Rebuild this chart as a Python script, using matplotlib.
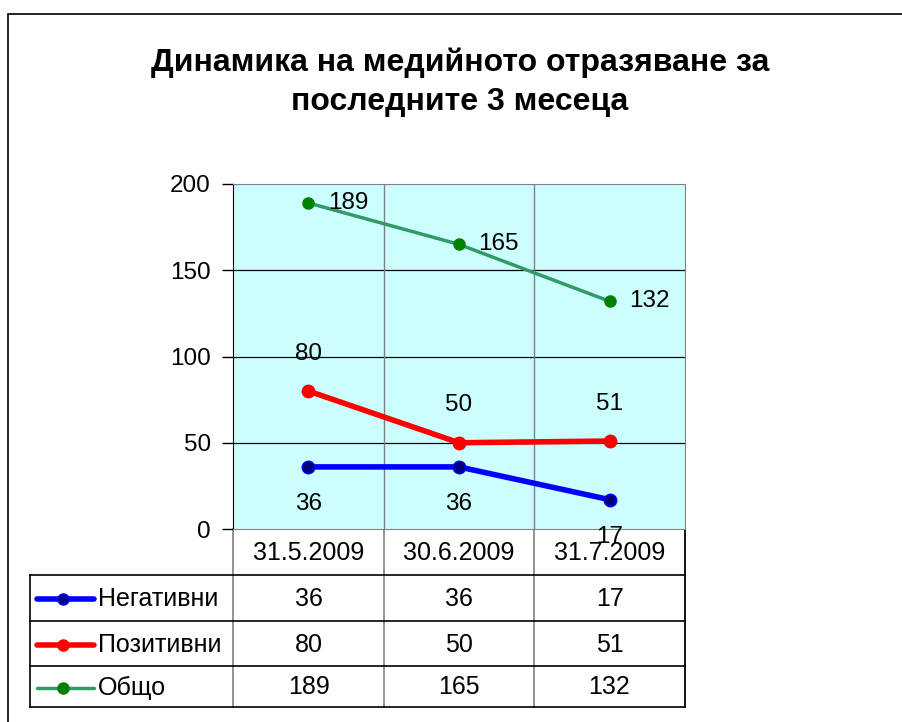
import matplotlib.pyplot as plt
from matplotlib.lines import Line2D
from matplotlib.patches import Rectangle

# data
dates = ["31.5.2009", "30.6.2009", "31.7.2009"]
series_names = ["Негативни", "Позитивни", "Общо"]
negative = [36, 36, 17]
positive = [80, 50, 51]
total = [189, 165, 132]

title = "Динамика на медийното отразяване за\nпоследните 3 месеца"

W, H = 902, 722
SANS = ["Liberation Sans", "DejaVu Sans"]


def fx(px):
    return px / W


def fy(py):
    return 1 - py / H


fig = plt.figure(figsize=(W / 100, H / 100), dpi=100)

# outer chart border
fig.patches.append(Rectangle((fx(8), fy(760)), fx(950), fy(14) - fy(760),
                             transform=fig.transFigure, fill=False,
                             edgecolor="black", linewidth=1.2))

fig.text(fx(460), fy(82), title, ha="center", va="center",
         fontsize=23, fontweight="bold", family=SANS, linespacing=1.4)

# plot area
L, R, T, B = 233, 685, 184, 529
ax = fig.add_axes([fx(L), fy(B), fx(R - L), fy(T) - fy(B)])
ax.set_facecolor("#CCFFFF")
x = list(range(len(dates)))
ax.set_xlim(-0.5, len(dates) - 0.5)
ax.set_ylim(0, 200)
ax.set_yticks([0, 50, 100, 150, 200])
for yv in [50, 100, 150]:
    ax.axhline(yv, color="black", linewidth=0.9, zorder=1)
for xv in [0.5, 1.5]:
    ax.axvline(xv, color="#808080", linewidth=1.0, zorder=1)
ax.set_xticks([])
for s in ["top", "right", "bottom"]:
    ax.spines[s].set_color("#808080")
ax.spines["left"].set_color("black")
ax.tick_params(axis="y", length=8, width=1, labelsize=17.5, pad=8)
for lab in ax.get_yticklabels():
    lab.set_family(SANS)

ax.plot(x, total, color="#339966", linewidth=2.5, marker="o", markersize=8,
        markerfacecolor="#008000", markeredgecolor="#008000", zorder=3)
ax.plot(x, positive, color="#FF0000", linewidth=4, marker="o", markersize=9,
        markerfacecolor="#FF0000", markeredgecolor="#FF0000", zorder=3)
ax.plot(x, negative, color="#0000FF", linewidth=4, marker="o", markersize=9,
        markerfacecolor="#000080", markeredgecolor="#0000FF", zorder=3)

for i in x:
    ax.annotate(str(total[i]), (i, total[i]), xytext=(14, 0),
                textcoords="offset points", ha="left", va="center",
                fontsize=17.5, family=SANS)
    ax.annotate(str(positive[i]), (i, positive[i]), xytext=(0, 27),
                textcoords="offset points", ha="center", va="center",
                fontsize=17.5, family=SANS)
    ax.annotate(str(negative[i]), (i, negative[i]), xytext=(0, -27),
                textcoords="offset points", ha="center", va="center",
                fontsize=17.5, family=SANS, annotation_clip=False,
                zorder=5)

# data table
tab = fig.add_axes([0, 0, 1, 1], zorder=-1)
tab.set_xlim(0, W)
tab.set_ylim(H, 0)
tab.axis("off")

col_edges = [233, 384, 534, 685]
row_edges = [529, 575, 621, 666, 707]
key_left = 30

for xe in col_edges:
    tab.plot([xe, xe], [row_edges[0], row_edges[-1]], color="#808080", lw=1.2)
tab.plot([key_left, key_left], [row_edges[1], row_edges[-1]],
         color="black", lw=1.2)
for ye in row_edges[1:]:
    tab.plot([key_left, col_edges[-1]], [ye, ye], color="black", lw=1.2)
tab.plot([col_edges[-1], col_edges[-1]], [row_edges[0], row_edges[-1]],
         color="black", lw=1.2)

for j, d in enumerate(dates):
    cx = (col_edges[j] + col_edges[j + 1]) / 2
    tab.text(cx, (row_edges[0] + row_edges[1]) / 2 + 1, d, ha="center",
             va="center", fontsize=18, family=SANS)

rows = [negative, positive, total]
key_styles = [
    dict(color="#0000FF", lw=4, mfc="#000080", mec="#0000FF", ms=8),
    dict(color="#FF0000", lw=4, mfc="#FF0000", mec="#FF0000", ms=8),
    dict(color="#339966", lw=2.5, mfc="#008000", mec="#008000", ms=8),
]
for r, (name, vals, st) in enumerate(zip(series_names, rows, key_styles)):
    cy = (row_edges[r + 1] + row_edges[r + 2]) / 2 + 1
    tab.add_line(Line2D([37, 94], [cy, cy], color=st["color"], lw=st["lw"],
                        solid_capstyle="round"))
    tab.plot([63], [cy], marker="o", ms=st["ms"], mfc=st["mfc"],
             mec=st["mec"], ls="none")
    tab.text(98, cy, name, ha="left", va="center", fontsize=18, family=SANS)
    for j, v in enumerate(vals):
        cx = (col_edges[j] + col_edges[j + 1]) / 2
        tab.text(cx, cy, str(v), ha="center", va="center", fontsize=18,
                 family=SANS)

fig.savefig("out.png", dpi=100)
